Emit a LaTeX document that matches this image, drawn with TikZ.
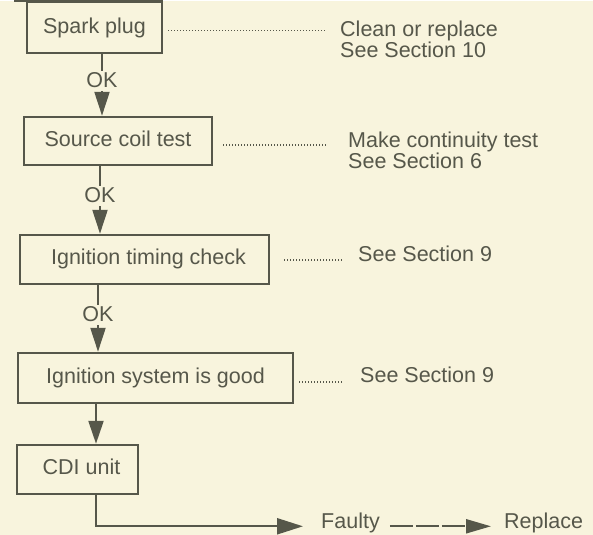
\documentclass[tikz,border=0pt]{standalone}
\usepackage{fontspec}
\setmainfont{Liberation Sans}
\usetikzlibrary{arrows.meta}
\definecolor{ink}{HTML}{56574A}
\definecolor{paper}{HTML}{F8F4DD}
\begin{document}
\begin{tikzpicture}[x=1pt,y=-1pt,
  every node/.style={font=\fontsize{21.5}{21}\selectfont, text=ink},
  stepbox/.style={draw=ink, line width=2.2pt, rectangle, inner sep=0pt,
    text height=15.5pt, text depth=4.5pt},
  note/.style={inner sep=0pt, align=left},
  oklabel/.style={inner sep=3pt, text height=14pt, text depth=0pt},
  conn/.style={draw=ink, line width=2.2pt, -{Triangle[length=24pt,width=15pt]}},
  plain/.style={draw=ink, line width=2.2pt},
  leader/.style={draw=ink, line width=1.3pt, dash pattern=on 1.2pt off 1.8pt},
  dashedarrow/.style={draw=ink, line width=2.2pt, dash pattern=on 23pt off 3pt,
    -{Triangle[length=25pt,width=14pt]}}
]
\fill[paper] (0,0) rectangle (593,534);

% boxes
\node[stepbox, minimum width=135pt, minimum height=50.7pt] (spark) at (94.5,26.7) {Spark plug};
\node[stepbox, minimum width=188pt, minimum height=48pt] (source) at (118,140) {Source coil test};
\node[stepbox, minimum width=249pt, minimum height=49pt] (timing) at (144.5,258.5) {\hspace*{8pt}Ignition timing check};
\node[stepbox, minimum width=275pt, minimum height=50pt] (system) at (155.5,377) {Ignition system is good};
\node[stepbox, minimum width=121pt, minimum height=49pt] (cdi) at (77.5,468.5) {\hspace*{8pt}CDI unit};

% top edge extension
\draw[plain] (spark.north east) -- ([xshift=-12pt]spark.north west);

% notes
\node[note, anchor=north west] (clean) at (340,19.4) {Clean or replace\\See Section 10};
\node[note, anchor=north west] (make) at (348,131.3) {Make continuity test\\See Section 6};
\node[note, anchor=base west] (see9a) at (358,261) {See Section 9};
\node[note, anchor=base west] (see9b) at (360,382) {See Section 9};
\node[note, anchor=base west] (faulty) at (321,528) {Faulty};
\node[note, anchor=base west] (replace) at (504,528) {Replace};

% leaders
\draw[leader, shorten <=5pt, shorten >=15pt] ([yshift=-3.3pt]spark.east) -- ([yshift=-3.3pt]spark.east -| clean.west);
\draw[leader, shorten <=10pt, shorten >=21pt] ([yshift=-4pt]source.east) -- ([yshift=-4pt]source.east -| make.west);
\draw[leader, shorten <=14pt, shorten >=16pt] ([yshift=-0.5pt]timing.east) -- ([yshift=-0.5pt]timing.east -| see9a.west);
\draw[leader, shorten <=5pt, shorten >=18pt] ([yshift=-4pt]system.east) -- ([yshift=-4pt]system.east -| see9b.west);

% OK labels
\node[oklabel] (ok1) at (102,80) {OK};
\node[oklabel] (ok2) at (100,195) {OK};
\node[oklabel] (ok3) at (98,314) {OK};

% vertical flow
\draw[plain] (ok1 |- spark.south) -- (ok1);
\draw[conn] (ok1) -- (ok1 |- source.north);
\draw[plain] (ok2 |- source.south) -- (ok2);
\draw[conn] (ok2) -- (ok2 |- timing.north);
\draw[plain] (ok3 |- timing.south) -- (ok3);
\draw[conn] (ok3) -- (ok3 |- system.north);
\draw[conn, -{Triangle[length=23pt,width=15pt]}] ([xshift=-59.5pt]system.south) -- ([xshift=-59.5pt]system.south |- cdi.north);

% CDI to faulty
\draw[conn, -{Triangle[length=26pt,width=16pt]}, shorten >=18pt] ([xshift=18.5pt]cdi.south) |- ([yshift=-3pt]faulty.west);
\draw[dashedarrow, shorten <=10pt, shorten >=13pt] ([yshift=-3pt]faulty.east) -- ([yshift=-3pt]replace.west);
\end{tikzpicture}
\end{document}
